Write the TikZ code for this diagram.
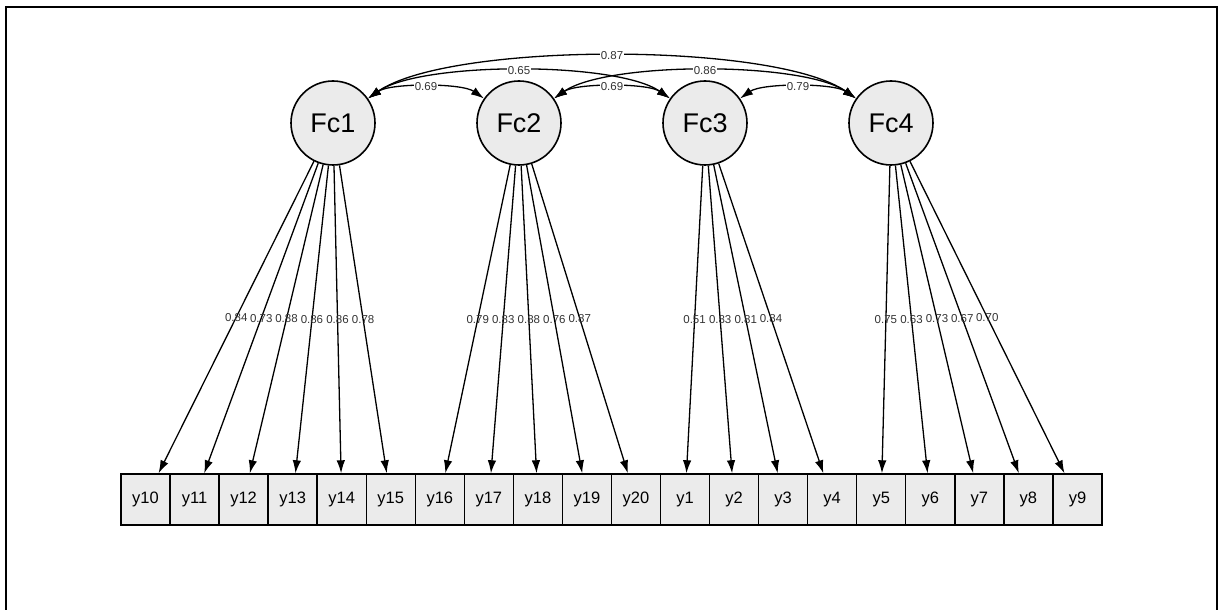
\documentclass[tikz,border=0pt]{standalone}
\usepackage{fontspec}
\setmainfont{Liberation Sans}
\usetikzlibrary{arrows.meta}

\begin{document}
\begin{tikzpicture}[x=1pt,y=1pt,
  latent/.style={circle,draw,line width=1.6pt,fill=black!8,minimum size=84pt,inner sep=0pt,font=\fontsize{27}{27}\selectfont},
  manifest/.style={rectangle,draw,line width=1.4pt,fill=black!8,minimum width=49.05pt,minimum height=51pt,inner sep=0pt,font=\fontsize{16.5}{16.5}\selectfont},
  loading/.style={-{Latex[length=13pt,width=8.5pt]},line width=1.3pt},
  covar/.style={{Latex[length=13pt,width=8.5pt]}-{Latex[length=13pt,width=8.5pt]},line width=1.3pt,out=35,in=145},
  lbl/.style={font=\fontsize{11.5}{11.5}\selectfont,text=black!80,inner sep=0.5pt}]
\useasboundingbox (0,0) rectangle (1218,610);
\draw[line width=1.6pt] (6,0) -- (6,603) -- (1217,603) -- (1217,0);

% latent factors
\node[latent] (Fc1) at (333,487) {Fc1};
\node[latent] (Fc2) at (519,487) {Fc2};
\node[latent] (Fc3) at (705,487) {Fc3};
\node[latent] (Fc4) at (891,487) {Fc4};

% observed items
\foreach \v [count=\k from 0] in {10,11,12,13,14,15,16,17,18,19,20,1,2,3,4,5,6,7,8,9}
  \node[manifest] (y\v) at (145.5+49.05*\k,110.5) {y\v};

% loadings
\foreach \v/\w in {10/0.84,11/0.73,12/0.88,13/0.86,14/0.86,15/0.78}
  \draw[loading] (Fc1) -- node[lbl]{\w} (y\v);
\foreach \v/\w in {16/0.79,17/0.83,18/0.88,19/0.76,20/0.87}
  \draw[loading] (Fc2) -- node[lbl]{\w} (y\v);
\foreach \v/\w in {1/0.51,2/0.83,3/0.81,4/0.84}
  \draw[loading] (Fc3) -- node[lbl]{\w} (y\v);
\foreach \v/\w in {5/0.75,6/0.63,7/0.73,8/0.67,9/0.70}
  \draw[loading] (Fc4) -- node[lbl]{\w} (y\v);

% covariances
\draw[covar,looseness=0.52] (Fc1) to node[lbl,fill=white]{0.87} (Fc4);
\draw[covar,looseness=0.55] (Fc1) to node[lbl,fill=white]{0.65} (Fc3);
\draw[covar,looseness=0.55] (Fc2) to node[lbl,fill=white]{0.86} (Fc4);
\draw[covar,looseness=0.6] (Fc1) to node[lbl,fill=white]{0.69} (Fc2);
\draw[covar,looseness=0.6] (Fc2) to node[lbl,fill=white]{0.69} (Fc3);
\draw[covar,looseness=0.6] (Fc3) to node[lbl,fill=white]{0.79} (Fc4);

\end{tikzpicture}
\end{document}
